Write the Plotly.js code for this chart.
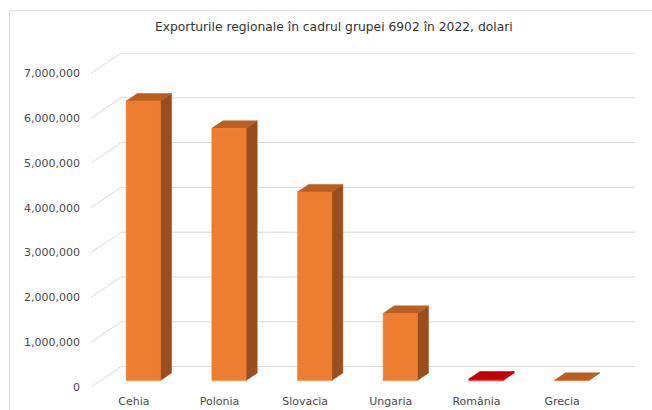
<!DOCTYPE html>
<html>
<head>
<meta charset="utf-8">
<script src="https://cdn.plot.ly/plotly-3.0.1.min.js"></script>
<style>html,body{margin:0;padding:0;background:#fff;}#chart{width:652px;height:410px;}</style>
</head>
<body>
<div id="chart"></div>
<script>
// ---- data ----
const categories = ["Cehia", "Polonia", "Slovacia", "Ungaria", "România", "Grecia"];
const exportsUSD = [6240000, 5630000, 4210000, 1500000, 35000, 6000];
const yTickValues = [0, 1000000, 2000000, 3000000, 4000000, 5000000, 6000000, 7000000];
const frontColors = ["#ED7D31", "#ED7D31", "#ED7D31", "#ED7D31", "#FF0000", "#ED7D31"];
const topColors   = ["#B95F21", "#B95F21", "#B95F21", "#B95F21", "#C00000", "#B95F21"];
const sideColors  = ["#9A4D1D", "#9A4D1D", "#9A4D1D", "#9A4D1D", "#A80000", "#9A4D1D"];

// ---- pseudo-3D geometry (in axis units) ----
const DX = 0.351;        // wall depth along x (category units)
const DY = 455000;       // wall depth along y (value units)
const BAR_W = 0.40;      // bar front-face width
const OFF = 0.315;       // bar front face offset as fraction of depth
const BDEPTH = 0.37;     // bar depth as fraction of depth
const xMin = -0.5, xMax = categories.length - 0.5 + DX;
const yMax = 7000000 + DY;

const traces = [];

// gridlines on back wall + diagonal on left wall
const gx = [], gy = [];
yTickValues.forEach(v => {
  gx.push(xMin, xMin + DX, xMax, null);
  gy.push(v, v + DY, v + DY, null);
});
traces.push({type: "scatter", mode: "lines", x: gx, y: gy, hoverinfo: "skip",
  line: {color: "#D9D9D9", width: 1}, showlegend: false});

function poly(xs, ys, color) {
  traces.push({type: "scatter", mode: "lines", fill: "toself", fillcolor: color,
    x: xs.concat([xs[0]]), y: ys.concat([ys[0]]),
    line: {color: color, width: 0.5}, hoverinfo: "skip", showlegend: false});
}

categories.forEach((c, i) => {
  const v = exportsUSD[i];
  const ox = OFF * DX, oy = OFF * DY;
  const bx = BDEPTH * DX, by = BDEPTH * DY;
  const L = i - BAR_W / 2 + ox, R = i + BAR_W / 2 + ox;
  const B = oy, T = v + oy;
  // side face
  poly([R, R + bx, R + bx, R], [B, B + by, T + by, T], sideColors[i]);
  // top face
  poly([L, R, R + bx, L + bx], [T, T, T + by, T + by], topColors[i]);
  // front face
  poly([L, R, R, L], [B, B, T, T], frontColors[i]);
});

const layout = {
  width: 652, height: 410,
  margin: {l: 91, r: 17, t: 53, b: 23, pad: 0},
  paper_bgcolor: "#ffffff", plot_bgcolor: "rgba(0,0,0,0)",
  showlegend: false,
  font: {family: "DejaVu Sans, Verdana, sans-serif", color: "#4a4a4a", size: 11},
  title: {text: "Exporturile regionale în cadrul grupei 6902 în 2022, dolari",
    xref: "container", x: 0.512, xanchor: "center",
    yref: "container", y: 0.934, yanchor: "middle",
    font: {family: "DejaVu Sans, Verdana, sans-serif", size: 12.3, color: "#333333"}},
  xaxis: {range: [xMin, xMax], showgrid: false, zeroline: false, showline: false,
    tickmode: "array", tickvals: categories.map((c, i) => i), ticktext: categories,
    ticks: "", ticklabelstandoff: 6, fixedrange: true},
  yaxis: {range: [0, yMax], showgrid: false, zeroline: false, showline: false,
    tickmode: "array", tickvals: yTickValues, tickformat: ",",
    ticks: "", ticklabelstandoff: 10, fixedrange: true},
  shapes: [{type: "path", xref: "paper", yref: "paper",
    path: "M -0.150 -0.3 L -0.150 1.1266 L 1.2 1.1266",
    line: {color: "#D9D9D9", width: 1}}]
};

Plotly.newPlot("chart", traces, layout, {staticPlot: true, displayModeBar: false});
</script>
</body>
</html>
